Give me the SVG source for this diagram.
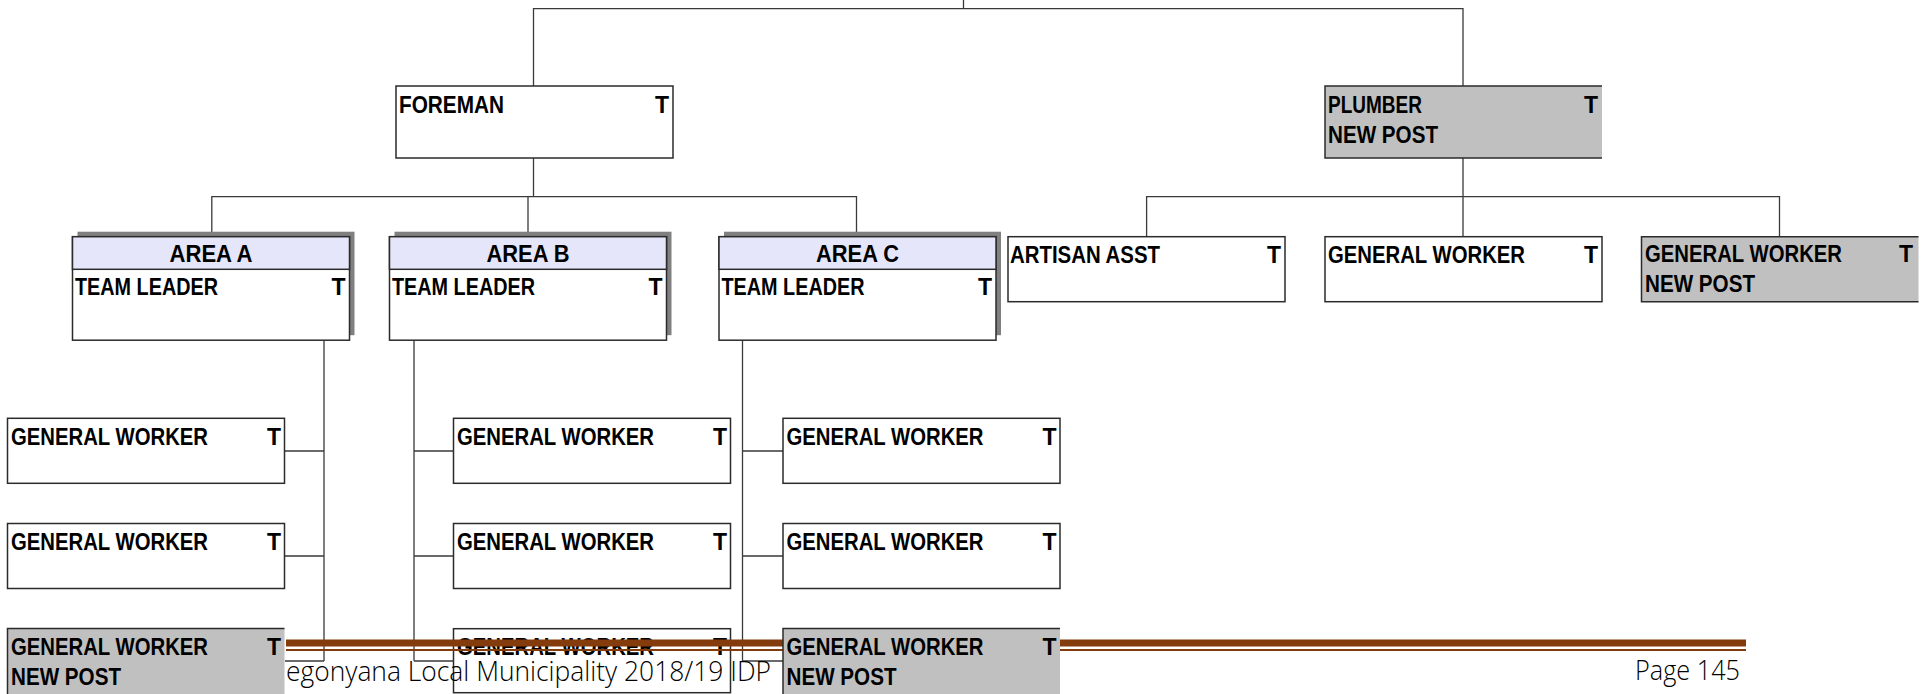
<svg xmlns="http://www.w3.org/2000/svg" width="1927" height="694" viewBox="0 0 1927 694">
<style>
.bx{fill:#fff;stroke:#2b2b2b;stroke-width:1.5}
.gy{fill:#c0c0c0}
.gb{fill:none;stroke:#2b2b2b;stroke-width:1.5}
.hd{fill:#e6e6fa;stroke:#2b2b2b;stroke-width:1.5}
.sh{fill:#808080}
.t{font-family:"Liberation Sans",Arial,sans-serif;font-weight:bold;font-size:23px;fill:#000}
.e{text-anchor:end}
.m{text-anchor:middle}
.c line,.c path{stroke:#3a3a3a;stroke-width:1.3;fill:none}
.ft{font-family:"Open Sans","Liberation Sans",sans-serif;font-weight:300;font-size:27px;fill:#000}
</style>
<rect width="1927" height="694" fill="#fff"/>
<g class="c" id="connectors">
<line x1="963.5" y1="0" x2="963.5" y2="8.6"/>
<path d="M533.5 86 V8.6 H1463 V86"/>
<path d="M533.5 158 V196.6 M211.8 236.7 V196.6 H856.5 V236.7 M528 196.6 V236.7"/>
<path d="M1463 158 V196.6 M1146.6 236.7 V196.6 H1779.5 V236.7 M1463 196.6 V236.7"/>
<path d="M324 340 V661 M285 451 H324 M285 556 H324 M285 661 H324"/>
<path d="M414 340 V661 M414 451 H453.5 M414 556 H453.5 M414 661 H453.5"/>
<path d="M742.5 340 V661 M742.5 451 H783 M742.5 556 H783 M742.5 661 H783"/>
</g>
<g id="foreman"><rect class="bx" x="396" y="86" width="277" height="72"/><text class="t" x="399" y="113" textLength="105" lengthAdjust="spacingAndGlyphs">FOREMAN</text><text class="t e" x="669" y="113">T</text></g>
<g id="area-a"><rect class="sh" x="77.5" y="231.7" width="277" height="103.5"/><rect class="bx" x="72.5" y="236.7" width="277" height="103.5"/><rect class="hd" x="72.5" y="236.7" width="277" height="32.6"/><text class="t m" x="211" y="262" textLength="83" lengthAdjust="spacingAndGlyphs">AREA A</text><text class="t" x="75" y="295" textLength="143" lengthAdjust="spacingAndGlyphs">TEAM LEADER</text><text class="t e" x="345.5" y="295">T</text></g>
<g id="area-b"><rect class="sh" x="394.5" y="231.7" width="277" height="103.5"/><rect class="bx" x="389.5" y="236.7" width="277" height="103.5"/><rect class="hd" x="389.5" y="236.7" width="277" height="32.6"/><text class="t m" x="528" y="262" textLength="83" lengthAdjust="spacingAndGlyphs">AREA B</text><text class="t" x="392" y="295" textLength="143" lengthAdjust="spacingAndGlyphs">TEAM LEADER</text><text class="t e" x="662.5" y="295">T</text></g>
<g id="area-c"><rect class="sh" x="724" y="231.7" width="277" height="103.5"/><rect class="bx" x="719" y="236.7" width="277" height="103.5"/><rect class="hd" x="719" y="236.7" width="277" height="32.6"/><text class="t m" x="857.5" y="262" textLength="83" lengthAdjust="spacingAndGlyphs">AREA C</text><text class="t" x="721.5" y="295" textLength="143" lengthAdjust="spacingAndGlyphs">TEAM LEADER</text><text class="t e" x="992" y="295">T</text></g>
<g id="artisan"><rect class="bx" x="1008" y="236.7" width="277" height="65"/><text class="t" x="1010" y="262.5" textLength="150" lengthAdjust="spacingAndGlyphs">ARTISAN  ASST</text><text class="t e" x="1281" y="262.5">T</text></g>
<g id="plumber-gw1"><rect class="bx" x="1325" y="236.7" width="277" height="65"/><text class="t" x="1328" y="262.5" textLength="197" lengthAdjust="spacingAndGlyphs">GENERAL  WORKER</text><text class="t e" x="1598" y="262.5">T</text></g>
<g id="a-gw1"><rect class="bx" x="7.5" y="418.3" width="277" height="65"/><text class="t" x="11" y="445" textLength="197" lengthAdjust="spacingAndGlyphs">GENERAL  WORKER</text><text class="t e" x="281" y="445">T</text></g>
<g id="a-gw2"><rect class="bx" x="7.5" y="523.5" width="277" height="65"/><text class="t" x="11" y="550" textLength="197" lengthAdjust="spacingAndGlyphs">GENERAL  WORKER</text><text class="t e" x="281" y="550">T</text></g>
<g id="b-gw1"><rect class="bx" x="453.5" y="418.3" width="277" height="65"/><text class="t" x="457" y="445" textLength="197" lengthAdjust="spacingAndGlyphs">GENERAL  WORKER</text><text class="t e" x="727" y="445">T</text></g>
<g id="b-gw2"><rect class="bx" x="453.5" y="523.5" width="277" height="65"/><text class="t" x="457" y="550" textLength="197" lengthAdjust="spacingAndGlyphs">GENERAL  WORKER</text><text class="t e" x="727" y="550">T</text></g>
<g id="b-gw3"><rect class="bx" x="453.5" y="628.7" width="277" height="64"/><text class="t" x="457" y="655" textLength="197" lengthAdjust="spacingAndGlyphs">GENERAL  WORKER</text><text class="t e" x="727" y="655">T</text></g>
<g id="c-gw1"><rect class="bx" x="783" y="418.3" width="277" height="65"/><text class="t" x="786.5" y="445" textLength="197" lengthAdjust="spacingAndGlyphs">GENERAL  WORKER</text><text class="t e" x="1056.5" y="445">T</text></g>
<g id="c-gw2"><rect class="bx" x="783" y="523.5" width="277" height="65"/><text class="t" x="786.5" y="550" textLength="197" lengthAdjust="spacingAndGlyphs">GENERAL  WORKER</text><text class="t e" x="1056.5" y="550">T</text></g>
<g id="footer">
<rect x="286" y="639.5" width="1460" height="7" fill="#843c0c"/>
<rect x="286" y="649" width="1460" height="2" fill="#843c0c"/>
<text class="ft" x="286" y="681" textLength="485" lengthAdjust="spacingAndGlyphs">egonyana Local Municipality 2018/19 IDP</text>
<text class="ft" x="1635" y="680" textLength="105" lengthAdjust="spacingAndGlyphs">Page 145</text>
</g>
<g id="plumber"><rect class="gy" x="1325" y="86" width="277" height="72"/><path class="gb" d="M1602 86 H1325 V158 H1602"/><text class="t" x="1328" y="113" textLength="94" lengthAdjust="spacingAndGlyphs">PLUMBER</text><text class="t" x="1328" y="143" textLength="110" lengthAdjust="spacingAndGlyphs">NEW POST</text><text class="t e" x="1598" y="113">T</text></g>
<g id="plumber-gw2"><rect class="gy" x="1641.5" y="236.7" width="277" height="65"/><path class="gb" d="M1918.5 236.7 H1641.5 V301.7 H1918.5"/><text class="t" x="1645" y="262" textLength="197" lengthAdjust="spacingAndGlyphs">GENERAL  WORKER</text><text class="t" x="1645" y="292" textLength="110" lengthAdjust="spacingAndGlyphs">NEW POST</text><text class="t e" x="1913" y="262">T</text></g>
<g id="a-gw3"><rect class="gy" x="7.5" y="628.5" width="277" height="66"/><path class="gb" d="M284.5 628.5 H7.5 V694"/><text class="t" x="11" y="655" textLength="197" lengthAdjust="spacingAndGlyphs">GENERAL  WORKER</text><text class="t" x="11" y="685" textLength="110" lengthAdjust="spacingAndGlyphs">NEW POST</text><text class="t e" x="281" y="655">T</text></g>
<g id="c-gw3"><rect class="gy" x="783" y="628.5" width="277" height="66"/><path class="gb" d="M1060 628.5 H783 V694"/><text class="t" x="786.5" y="655" textLength="197" lengthAdjust="spacingAndGlyphs">GENERAL  WORKER</text><text class="t" x="786.5" y="685" textLength="110" lengthAdjust="spacingAndGlyphs">NEW POST</text><text class="t e" x="1056.5" y="655">T</text></g>
</svg>
